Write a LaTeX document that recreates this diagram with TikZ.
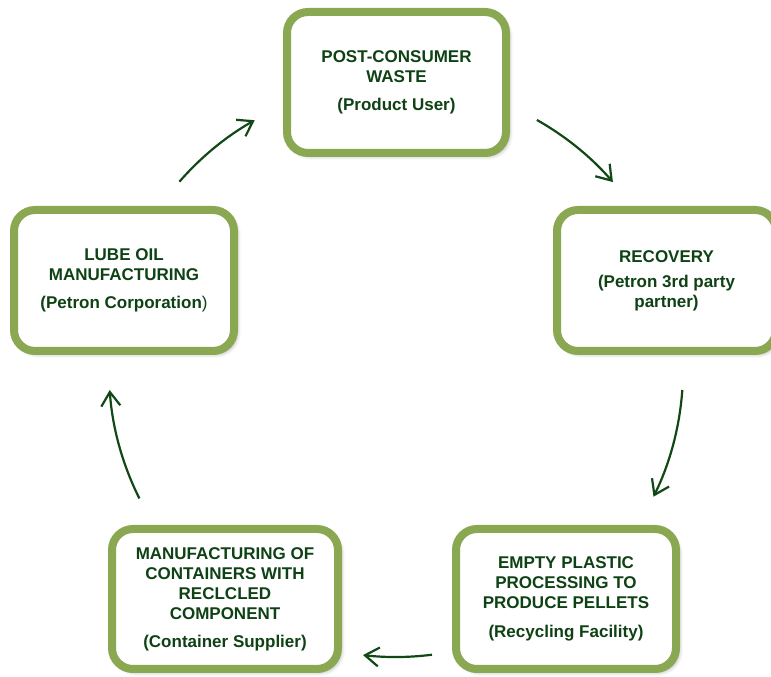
\documentclass[tikz,border=0pt]{standalone}
\usepackage{fontspec}
\setmainfont{Liberation Sans}
\usetikzlibrary{arrows.meta,shadows.blur,calc}
\definecolor{boxgreen}{RGB}{138,167,82}
\definecolor{textgreen}{RGB}{14,66,20}
\definecolor{arrowgreen}{RGB}{18,72,22}
\tikzset{
  stagebox/.style={draw=boxgreen, line width=8pt, fill=white, rounded corners=21pt,
    align=center, text=textgreen, inner sep=0pt,
    font=\fontsize{17}{20}\selectfont\bfseries,
    blur shadow={shadow xshift=3pt, shadow yshift=-3pt, shadow blur radius=4pt, shadow opacity=35}},
  flow/.style={draw=arrowgreen, line width=2.2pt,
    -{Straight Barb[length=14pt,width=19pt,line width=2.2pt]}}
}
\begin{document}
\begin{tikzpicture}[x=1pt,y=1pt]
\useasboundingbox (0,0) rectangle (771,677);
\node[stagebox, minimum width=219pt, minimum height=141pt] (waste) at (396.5,594.5)
  {POST-CONSUMER\\WASTE\\[8pt](Product User)};
\node[stagebox, minimum width=219pt, minimum height=141pt] (recovery) at (666.5,396.5)
  {RECOVERY\\[5pt](Petron 3rd party\\partner)};
\node[stagebox, minimum width=220pt, minimum height=140pt] (pellets) at (566,78)
  {EMPTY PLASTIC\\PROCESSING TO\\PRODUCE PELLETS\\[9pt](Recycling Facility)};
\node[stagebox, minimum width=226pt, minimum height=140pt] (containers) at (225,78)
  {MANUFACTURING OF\\CONTAINERS WITH\\RECLCLED\\COMPONENT\\[8pt](Container Supplier)};
\node[stagebox, minimum width=220pt, minimum height=141pt] (lube) at (124,396.5)
  {LUBE OIL\\MANUFACTURING\\[8pt](Petron Corporation{\mdseries)}};
\coordinate (c) at (396,307);
\coordinate (a1) at ($(c)+(60.6:287pt)$);
\coordinate (a2) at ($(c)+(-4:287pt)$);
\coordinate (a3) at ($(c)+(-82.8:287pt)$);
\coordinate (a4) at ($(c)+(206.6:287pt)$);
\coordinate (a5) at ($(c)+(139:287pt)$);
\draw[flow] (a1) arc[start angle=60.6, end angle=40.9, radius=287pt];
\draw[flow] (a2) arc[start angle=-4, end angle=-26.2, radius=287pt];
\draw[flow] (a3) arc[start angle=-82.8, end angle=-96.6, radius=287pt];
\draw[flow] (a4) arc[start angle=206.6, end angle=184, radius=287pt];
\draw[flow] (a5) arc[start angle=139, end angle=119.5, radius=287pt];
\end{tikzpicture}
\end{document}
